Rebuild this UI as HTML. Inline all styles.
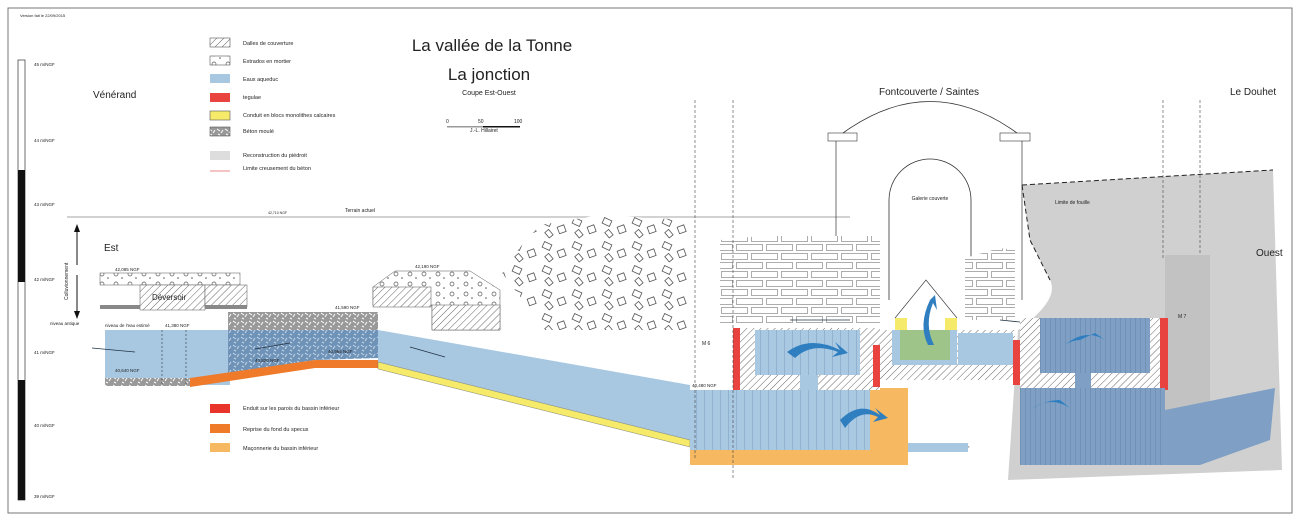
<!DOCTYPE html>
<html><head><meta charset="utf-8"><style>
html,body{margin:0;padding:0;background:#fff}
svg{display:block}
text{font-family:"Liberation Sans",sans-serif;fill:#222}
</style></head><body>
<svg width="1300" height="521" viewBox="0 0 1300 521" xmlns="http://www.w3.org/2000/svg">
<defs>
<pattern id="hatch" width="5" height="5" patternUnits="userSpaceOnUse" patternTransform="rotate(45)"><rect width="5" height="5" fill="#fff"/><line x1="0" y1="0" x2="0" y2="5" stroke="#666" stroke-width="1"/></pattern>
<pattern id="dots" width="14" height="10" patternUnits="userSpaceOnUse"><rect width="14" height="10" fill="#fff"/><circle cx="4" cy="4" r="2" fill="none" stroke="#555" stroke-width="0.7"/><circle cx="10" cy="8" r="0.8" fill="#555"/></pattern>
<pattern id="beton" width="8" height="8" patternUnits="userSpaceOnUse"><rect width="8" height="8" fill="#999"/><path d="M1 1l3 2M5 5l2-3M2 6l2 1" stroke="#fff" stroke-width="1"/></pattern>
<pattern id="betonb" width="8" height="8" patternUnits="userSpaceOnUse"><rect width="8" height="8" fill="#6f93b8"/><path d="M1 1l3 2M5 5l2-3M2 6l2 1" stroke="#c8d8e8" stroke-width="1"/></pattern>
<pattern id="vl" width="8" height="8" patternUnits="userSpaceOnUse"><rect width="8" height="8" fill="#a9c8e2"/><line x1="0" y1="0" x2="0" y2="8" stroke="#5a7fa5" stroke-width="0.6"/></pattern>
<pattern id="vd" width="5" height="8" patternUnits="userSpaceOnUse"><rect width="5" height="8" fill="#7fa0c4"/><line x1="0" y1="0" x2="0" y2="8" stroke="#4d6f95" stroke-width="0.6"/></pattern>
<pattern id="brick" width="30" height="18" patternUnits="userSpaceOnUse"><rect width="30" height="18" fill="#fff"/><rect x="1.5" y="1.5" width="26" height="6" fill="none" stroke="#777" stroke-width="0.6"/><rect x="-13.5" y="10.5" width="26" height="6" fill="none" stroke="#777" stroke-width="0.6"/><rect x="16.5" y="10.5" width="26" height="6" fill="none" stroke="#777" stroke-width="0.6"/></pattern>
<pattern id="rocks" width="30" height="24" patternUnits="userSpaceOnUse"><rect width="30" height="24" fill="#fff"/><rect x="3" y="3" width="8" height="6" transform="rotate(25 7 6)" fill="none" stroke="#555" stroke-width="0.8"/><rect x="18" y="10" width="7" height="7" transform="rotate(-20 21 13)" fill="none" stroke="#555" stroke-width="0.8"/><rect x="6" y="15" width="7" height="5" transform="rotate(50 9 17)" fill="none" stroke="#555" stroke-width="0.8"/></pattern>
</defs>
<rect x="8" y="8" width="1284" height="505" fill="none" stroke="#777" stroke-width="1"/>
<text x="20" y="17" font-size="4">Version fait le 22/09/2015</text>
<rect x="18" y="60" width="7" height="440" fill="#fff" stroke="#333" stroke-width="0.7"/>
<rect x="18" y="170" width="7" height="112" fill="#111"/>
<rect x="18" y="380" width="7" height="120" fill="#111"/>
<g font-size="4.5"><text x="34" y="66">45 m/NGF</text><text x="34" y="142">44 m/NGF</text><text x="34" y="206">43 m/NGF</text><text x="34" y="281">42 m/NGF</text><text x="34" y="354">41 m/NGF</text><text x="34" y="427">40 m/NGF</text><text x="34" y="498">39 m/NGF</text></g>
<g font-size="5.5">
<rect x="210" y="38" width="20" height="9" fill="url(#hatch)" stroke="#555" stroke-width="0.6"/><text x="243" y="45">Dalles de couverture</text>
<rect x="210" y="56" width="20" height="9" fill="url(#dots)" stroke="#555" stroke-width="0.6"/><text x="243" y="63">Extrados en mortier</text>
<rect x="210" y="74" width="20" height="9" fill="#a8c8e2"/><text x="243" y="81">Eaux aqueduc</text>
<rect x="210" y="93" width="20" height="9" fill="#e8433f"/><text x="243" y="99">tegulae</text>
<rect x="210" y="111" width="20" height="9" fill="#f5ea6a" stroke="#555" stroke-width="0.6"/><text x="243" y="117">Conduit en blocs monolithes calcaires</text>
<rect x="210" y="127" width="20" height="9" fill="url(#beton)" stroke="#555" stroke-width="0.6"/><text x="243" y="133">Béton moulé</text>
<rect x="210" y="151" width="20" height="9" fill="#ddd"/><text x="243" y="157">Reconstruction du piédroit</text>
<line x1="210" y1="171" x2="230" y2="171" stroke="#e06060" stroke-width="0.8"/><text x="243" y="170">Limite creusement du béton</text>
<rect x="210" y="404" width="20" height="9" fill="#e8342a"/><text x="243" y="410">Enduit sur les parois du bassin inférieur</text>
<rect x="210" y="424" width="20" height="9" fill="#ee7a2a"/><text x="243" y="431">Reprise du fond du specus</text>
<rect x="210" y="443" width="20" height="9" fill="#f6b860"/><text x="243" y="450">Maçonnerie du bassin inférieur</text>
</g>
<text x="492" y="51" font-size="17" text-anchor="middle">La vallée de la Tonne</text>
<text x="489" y="80" font-size="17" text-anchor="middle">La jonction</text>
<text x="489" y="95" font-size="7" text-anchor="middle">Coupe Est-Ouest</text>
<g font-size="5"><text x="446" y="123">0</text><text x="478" y="123">50</text><text x="514" y="123">100</text><text x="470" y="132">J.-L. Hillairet</text></g>
<rect x="447" y="126" width="36" height="1.5" fill="#999"/><rect x="483" y="126" width="37" height="1.5" fill="#111"/>
<text x="93" y="98" font-size="10">Vénérand</text>
<text x="929" y="95" font-size="10" text-anchor="middle">Fontcouverte / Saintes</text>
<text x="1230" y="95" font-size="10">Le Douhet</text>
<text x="104" y="251" font-size="10">Est</text>
<path d="M1022 185 L1273 170 L1282 470 L1008 480 L1018 330 Q1060 300 1050 280 L1030 240 Z" fill="#d0d0d0"/>
<path d="M1022 185 L1273 170" stroke="#222" stroke-width="1" stroke-dasharray="5 3" fill="none"/>
<path d="M1022 185 L1030 240 L1050 280" stroke="#222" stroke-width="1" stroke-dasharray="5 3" fill="none"/>
<text x="1055" y="204" font-size="5">Limite de fouille</text>
<rect x="1165" y="255" width="45" height="155" fill="#c2c2c2"/>
<text x="1256" y="256" font-size="10">Ouest</text>
<line x1="67" y1="217" x2="850" y2="217" stroke="#888" stroke-width="0.8"/>
<text x="345" y="212" font-size="5">Terrain actuel</text><text x="268" y="214" font-size="3.5">42,710 NGF</text>
<line x1="77" y1="228" x2="77" y2="265" stroke="#111" stroke-width="1"/><path d="M74 232 L77 224 L80 232Z" fill="#111"/>
<line x1="77" y1="275" x2="77" y2="315" stroke="#111" stroke-width="1"/><path d="M74 311 L77 319 L80 311Z" fill="#111"/>
<text x="68" y="300" font-size="5" transform="rotate(-90 68 300)">Colluvionnement</text>
<text x="50" y="325" font-size="4.5">niveau antique</text>
<path d="M843 133 Q930 70 1017 133" fill="none" stroke="#333" stroke-width="0.8"/>
<rect x="828" y="133" width="29" height="8" fill="#fff" stroke="#333" stroke-width="0.6"/>
<rect x="1000" y="133" width="30" height="8" fill="#fff" stroke="#333" stroke-width="0.6"/>
<line x1="836" y1="141" x2="836" y2="300" stroke="#333" stroke-width="0.7"/>
<line x1="1022" y1="141" x2="1022" y2="300" stroke="#333" stroke-width="0.7"/>
<path d="M889 300 L889 200 A41 41 0 0 1 971 200 L971 300" fill="none" stroke="#333" stroke-width="0.8"/>
<text x="930" y="200" font-size="5" text-anchor="middle">Galerie couverte</text>
<path d="M720 240 L760 236 L880 236 L880 325 L720 325 Z" fill="url(#brick)"/>
<path d="M965 258 L1000 248 L1015 250 L1015 320 L965 320 Z" fill="url(#brick)"/>
<path d="M500 270 L540 225 L600 215 L690 220 L690 330 L545 330 Z" fill="url(#rocks)"/>
<rect x="100" y="273" width="140" height="12" fill="url(#dots)" stroke="#555" stroke-width="0.5"/>
<rect x="140" y="285" width="65" height="25" fill="url(#hatch)" stroke="#555" stroke-width="0.5"/>
<text x="152" y="300" font-size="8">Déversoir</text>
<rect x="205" y="285" width="42" height="22" fill="url(#hatch)" stroke="#555" stroke-width="0.5"/>
<rect x="100" y="305" width="40" height="4" fill="#888"/><rect x="205" y="305" width="42" height="4" fill="#888"/>
<path d="M373 287 L395 271 L470 271 L500 290 L500 330 L432 330 L432 305 L373 305 Z" fill="url(#dots)" stroke="#555" stroke-width="0.5"/>
<rect x="373" y="287" width="58" height="20" fill="url(#hatch)" stroke="#555" stroke-width="0.5"/>
<rect x="432" y="305" width="68" height="25" fill="url(#hatch)" stroke="#555" stroke-width="0.5"/>
<g font-size="4.5"><text x="115" y="271">42,085 NGF</text><text x="415" y="268">42,190 NGF</text><text x="335" y="309">41,590 NGF</text><text x="105" y="327">niveau de l'eau estimé</text><text x="165" y="327">41,380 NGF</text></g>
<rect x="105" y="330" width="125" height="55" fill="#a8c8e2"/>
<rect x="105" y="378" width="85" height="8" fill="url(#beton)"/>
<rect x="228" y="312" width="150" height="18" fill="url(#beton)"/>
<path d="M228 330 L378 330 L378 358 L315 360 L228 374 Z" fill="url(#betonb)"/>
<path d="M190 378 L315 360 L378 360 L378 368 L315 368 L190 387 Z" fill="#ee7a2a"/>
<line x1="162" y1="330" x2="162" y2="385" stroke="#333" stroke-width="0.6" stroke-dasharray="2 2"/>
<line x1="186" y1="330" x2="186" y2="385" stroke="#333" stroke-width="0.6" stroke-dasharray="2 2"/>
<g font-size="4.5"><text x="115" y="372">40,640 NGF</text><text x="255" y="362">40,820 NGF</text><text x="328" y="353">40,965 NGF</text><text x="485" y="385">40,270 NGF</text><text x="692" y="387">40,480 NGF</text><text x="690" y="449">39,680 NGF</text><text x="783" y="449">39,670 NGF</text><text x="868" y="449">39,71 NGF</text><text x="945" y="449">39,640 NGF</text><text x="688" y="398">Voûte en plein-centre</text></g>
<path d="M378 330 L690 385 L690 440 L378 362 Z" fill="#a8c8e2"/>
<path d="M378 362 L690 440 L690 447 L378 369 Z" fill="#f5ea6a" stroke="#666" stroke-width="0.4"/>
<g stroke="#234" stroke-width="0.8">
<line x1="92" y1="348" x2="135" y2="352"/><line x1="255" y1="349" x2="290" y2="343"/><line x1="410" y1="347" x2="445" y2="357"/><line x1="695" y1="437" x2="730" y2="437"/><line x1="790" y1="320" x2="850" y2="320"/><line x1="1000" y1="320" x2="1050" y2="325"/><line x1="1150" y1="437" x2="1190" y2="437"/>
</g>
<rect x="690" y="440" width="218" height="25" fill="#f6b860"/>
<rect x="690" y="390" width="180" height="60" fill="url(#vl)"/>
<rect x="870" y="388" width="38" height="62" fill="#f6b860"/>
<rect x="908" y="443" width="60" height="9" fill="#a8c8e2"/>
<rect x="740" y="328" width="140" height="62" fill="url(#hatch)"/>
<rect x="755" y="330" width="105" height="45" fill="url(#vl)"/>
<rect x="800" y="375" width="18" height="15" fill="#a8c8e2"/>
<rect x="733" y="328" width="7" height="62" fill="#e8433f"/>
<rect x="873" y="345" width="7" height="42" fill="#e8433f"/>
<rect x="880" y="330" width="135" height="50" fill="url(#hatch)"/>
<rect x="892" y="330" width="65" height="35" fill="#a8c8e2"/>
<rect x="900" y="330" width="50" height="30" fill="#9fc48a"/>
<rect x="895" y="318" width="12" height="12" fill="#f5ea6a"/><rect x="945" y="318" width="12" height="12" fill="#f5ea6a"/>
<path d="M895 318 L926 280 L957 318" fill="none" stroke="#333" stroke-width="0.6"/>
<rect x="958" y="333" width="55" height="32" fill="#a8c8e2"/>
<rect x="1013" y="340" width="7" height="45" fill="#e8433f"/>
<rect x="1020" y="318" width="140" height="70" fill="url(#hatch)"/>
<rect x="1040" y="318" width="110" height="55" fill="url(#vd)"/>
<rect x="1075" y="373" width="16" height="15" fill="#7fa0c4"/>
<rect x="1160" y="318" width="8" height="72" fill="#e8433f"/>
<rect x="1020" y="388" width="145" height="77" fill="url(#vd)"/>
<path d="M1165 410 L1275 388 L1270 440 L1200 465 L1165 465 Z" fill="#7fa0c4"/>
<g fill="#2f7fc0">
<path d="M787 352 Q810 335 840 350 L835 342 L848 353 L832 357 L838 352 Q812 342 795 358Z"/>
<path d="M840 420 Q860 400 880 415 L875 408 L888 418 L873 422 L878 417 Q860 408 845 428Z"/>
<path d="M1065 345 Q1085 328 1105 340 L1095 333 L1080 340 Q1072 340 1065 345Z"/>
<path d="M1030 410 Q1050 395 1070 408 L1060 400 Q1045 400 1030 410Z"/>
<path d="M928 345 Q918 325 930 300 L925 305 L935 295 L937 310 L933 303 Q924 325 934 345Z"/>
</g>
<g font-size="5"><text x="702" y="345">M 6</text><text x="1178" y="318">M 7</text></g>
<g stroke="#444" stroke-width="0.6" stroke-dasharray="3 2"><line x1="695" y1="100" x2="695" y2="460"/><line x1="733" y1="100" x2="733" y2="480"/><line x1="1163" y1="100" x2="1163" y2="260"/><line x1="1200" y1="100" x2="1200" y2="255"/></g>
</svg>
</body></html>
